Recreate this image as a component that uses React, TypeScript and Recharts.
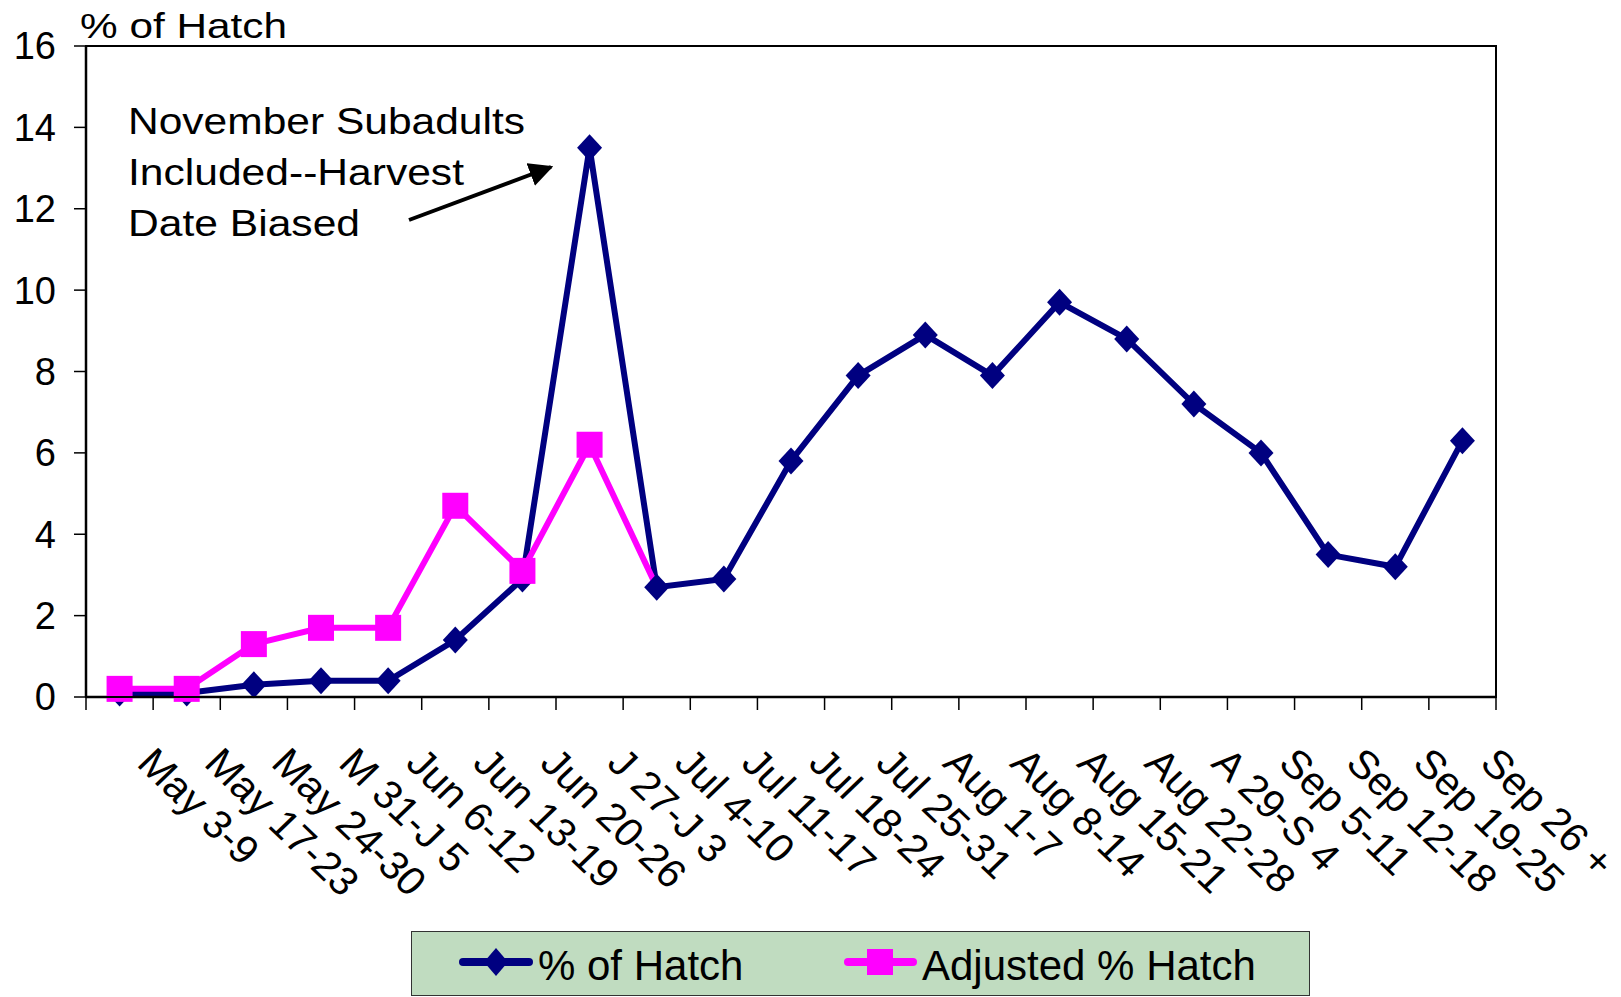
import { LineChart, Line, XAxis, YAxis } from "recharts";

const weeks = [
  "May 3-9",
  "May 17-23",
  "May 24-30",
  "M 31-J 5",
  "Jun 6-12",
  "Jun 13-19",
  "Jun 20-26",
  "J 27-J 3",
  "Jul 4-10",
  "Jul 11-17",
  "Jul 18-24",
  "Jul 25-31",
  "Aug 1-7",
  "Aug 8-14",
  "Aug 15-21",
  "Aug 22-28",
  "A 29-S 4",
  "Sep 5-11",
  "Sep 12-18",
  "Sep 19-25",
  "Sep 26 +",
];

const hatchPct = [
  0.1, 0.1, 0.3, 0.4, 0.4, 1.4, 2.9, 13.5, 2.7, 2.9, 5.8, 7.9, 8.9, 7.9, 9.7,
  8.8, 7.2, 6.0, 3.5, 3.2, 6.3,
];

const adjustedPct: (number | null)[] = [
  0.2, 0.2, 1.3, 1.7, 1.7, 4.7, 3.1, 6.2, 2.7, null, null, null, null, null,
  null, null, null, null, null, null, null,
];

const yTicks = [0, 2, 4, 6, 8, 10, 12, 14, 16];

const rows = weeks.map((week, i) => ({
  week,
  hatch: hatchPct[i],
  adjusted: adjustedPct[i],
}));

const W = 1621;
const H = 997;
const PLOT_LEFT = 86;
const PLOT_RIGHT = 1496;
const PLOT_TOP = 46;
const X_AXIS_H = 300;
const PLOT_BOTTOM = H - X_AXIS_H;
const BAND = (PLOT_RIGHT - PLOT_LEFT) / weeks.length;
const X_TICK = 13;
const FONT = "'Liberation Sans', Arial, sans-serif";
const NAVY = "#000080";
const MAGENTA = "#FF00FF";

function WeekTick(props: any) {
  const { x, y, payload, index } = props;
  const axisY = y - X_TICK;
  const left = x - BAND / 2;
  return (
    <g>
      <line x1={left} y1={axisY} x2={left} y2={axisY + X_TICK} stroke="#000" strokeWidth={1.5} />
      {index === weeks.length - 1 && (
        <line
          x1={x + BAND / 2}
          y1={axisY}
          x2={x + BAND / 2}
          y2={axisY + X_TICK}
          stroke="#000"
          strokeWidth={1.5}
        />
      )}
      <text
        transform={`translate(${x + 16},${axisY + 68}) scale(1.04,1) rotate(45)`}
        fontSize={40}
        fontFamily={FONT}
        fill="#000"
      >
        {payload.value}
      </text>
    </g>
  );
}

function Diamond(props: any) {
  const { cx, cy, index } = props;
  if (cx == null || cy == null) return <g key={`d${index}`} />;
  return (
    <polygon
      key={`d${index}`}
      points={`${cx},${cy - 13.5} ${cx + 12.5},${cy} ${cx},${cy + 13.5} ${cx - 12.5},${cy}`}
      fill={NAVY}
    />
  );
}

function Square(props: any) {
  const { cx, cy, index } = props;
  // last adjusted point has no marker in the original
  if (cx == null || cy == null || index >= 8) return <g key={`s${index}`} />;
  return <rect key={`s${index}`} x={cx - 13} y={cy - 13} width={26} height={26} fill={MAGENTA} />;
}

export default function App() {
  return (
    <div style={{ position: "absolute", left: 0, top: 0, width: W, height: H, background: "#fff" }}>
      <LineChart
        width={W}
        height={H}
        data={rows}
        margin={{ top: PLOT_TOP, right: W - PLOT_RIGHT, bottom: 0, left: 0 }}
      >
        <XAxis
          dataKey="week"
          height={X_AXIS_H}
          interval={0}
          padding={{ left: BAND / 2, right: BAND / 2 }}
          tickSize={X_TICK}
          tickMargin={0}
          tickLine={false}
          tick={<WeekTick />}
          axisLine={{ stroke: "#000", strokeWidth: 2.5 }}
        />
        <YAxis
          width={PLOT_LEFT}
          domain={[0, 16]}
          ticks={yTicks}
          interval={0}
          tickSize={12}
          tickMargin={18}
          tick={{ fontSize: 38, fill: "#000", fontFamily: FONT }}
          tickLine={{ stroke: "#000", strokeWidth: 1.5 }}
          axisLine={{ stroke: "#000", strokeWidth: 2.5 }}
        />
        <Line
          dataKey="hatch"
          stroke={NAVY}
          strokeWidth={6}
          dot={Diamond}
          activeDot={false}
          isAnimationActive={false}
        />
        <Line
          dataKey="adjusted"
          stroke={MAGENTA}
          strokeWidth={6}
          dot={Square}
          activeDot={false}
          connectNulls={false}
          isAnimationActive={false}
        />
      </LineChart>

      <svg
        width={W}
        height={H}
        style={{ position: "absolute", left: 0, top: 0, pointerEvents: "none" }}
        fontFamily={FONT}
      >
        <rect
          x={PLOT_LEFT}
          y={PLOT_TOP}
          width={PLOT_RIGHT - PLOT_LEFT}
          height={PLOT_BOTTOM - PLOT_TOP}
          fill="none"
          stroke="#000"
          strokeWidth={2}
        />
        <text x={80} y={38} fontSize={35} textLength={207} lengthAdjust="spacingAndGlyphs">
          % of Hatch
        </text>
        <text x={128} y={134} fontSize={36} textLength={397} lengthAdjust="spacingAndGlyphs">
          November Subadults
        </text>
        <text x={128} y={185} fontSize={36} textLength={336} lengthAdjust="spacingAndGlyphs">
          Included--Harvest
        </text>
        <text x={128} y={236} fontSize={36} textLength={232} lengthAdjust="spacingAndGlyphs">
          Date Biased
        </text>
        <defs>
          <marker id="head" viewBox="0 0 10 10" refX={9} refY={5} markerWidth={6} markerHeight={6} orient="auto">
            <path d="M0,0 L10,5 L0,10 z" fill="#000" />
          </marker>
        </defs>
        <line x1={409} y1={220} x2={551} y2={167} stroke="#000" strokeWidth={4} markerEnd="url(#head)" />
      </svg>

      <div
        style={{
          position: "absolute",
          left: 411,
          top: 931,
          width: 899,
          height: 65,
          background: "#C0DCC0",
          border: "1.5px solid #333",
          boxSizing: "border-box",
        }}
      >
        <svg width={899} height={65} style={{ position: "absolute", left: -1.5, top: -1.5 }} fontFamily={FONT}>
          <line x1={52} y1={31} x2={118} y2={31} stroke={NAVY} strokeWidth={8} strokeLinecap="round" />
          <polygon points="85,17 97,31 85,45 73,31" fill={NAVY} />
          <text x={127} y={49} fontSize={42}>
            % of Hatch
          </text>
          <line x1={437} y1={31} x2={502} y2={31} stroke={MAGENTA} strokeWidth={8} strokeLinecap="round" />
          <rect x={456} y={18} width={26} height={26} fill={MAGENTA} />
          <text x={511} y={49} fontSize={42}>
            Adjusted % Hatch
          </text>
        </svg>
      </div>
    </div>
  );
}
